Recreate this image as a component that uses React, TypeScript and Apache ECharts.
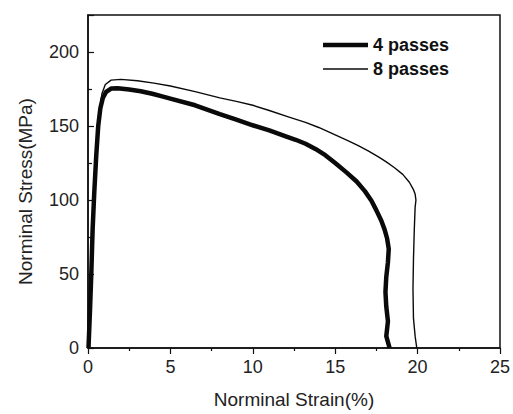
import React, { useEffect, useRef } from "react";
import * as echarts from "echarts";

const seriesNames = ["4 passes", "8 passes"];

const passes4: [number, number][] = [
  [0.03, 0], [0.12, 25], [0.2, 50], [0.28, 80], [0.38, 105], [0.5, 130],
  [0.62, 150], [0.75, 162], [0.9, 169], [1.1, 173], [1.4, 175.3], [1.8, 175.5],
  [2.5, 174.6], [3.2, 173.5], [3.9, 171.8], [4.5, 170], [5, 168.5], [6.5, 164],
  [8, 158], [9, 154.3], [10, 150.5], [11, 147], [12, 143], [12.6, 140.7],
  [13.2, 138], [13.8, 134.5], [14.4, 130.3], [15, 125], [15.7, 118.5],
  [16.3, 112.5], [16.8, 106], [17.2, 99.5], [17.5, 93], [17.8, 86], [18.0, 80],
  [18.15, 74], [18.25, 67], [18.2, 58], [18.1, 48], [18.05, 38], [18.1, 28],
  [18.2, 18], [18.1, 8], [18.3, 0],
];

const passes8: [number, number][] = [
  [0.05, 0], [0.15, 40], [0.3, 90], [0.5, 130], [0.7, 160], [0.85, 172],
  [1.05, 178], [1.4, 181], [2.0, 181.5], [3, 180.6], [4, 179], [5, 177],
  [6.5, 173.2], [8, 169], [9, 166.6], [10, 164], [11, 160.5], [12.2, 156],
  [13.2, 152.5], [14, 149], [15, 144], [15.8, 140], [16.4, 136.8], [17, 133.2],
  [17.6, 129.3], [18.1, 125.8], [18.6, 121.8], [19.1, 117.3], [19.5, 112],
  [19.75, 107], [19.85, 104], [19.9, 100], [19.85, 95], [19.8, 80], [19.75, 60],
  [19.72, 40], [19.75, 20], [19.85, 8], [19.95, 0],
];

const xAxisName = "Norminal Strain(%)";
const yAxisName = "Norminal Stress(MPa)";

export default function App() {
  const ref = useRef<HTMLDivElement>(null);
  useEffect(() => {
    document.body.style.margin = "0";
    if (!ref.current) return;
    const chart = echarts.init(ref.current, undefined, { renderer: "svg" });
    const font = "Liberation Sans, Arial, sans-serif";
    const legendBase = {
      icon: "rect",
      itemWidth: 45,
      left: 323,
      textStyle: { fontSize: 18, fontWeight: "bold", color: "#111", fontFamily: font },
      padding: 0,
    };
    chart.setOption({
      animation: false,
      backgroundColor: "#fff",
      grid: {
        left: 88,
        right: 11,
        top: 15,
        bottom: 62,
        show: true,
        borderColor: "#111",
        borderWidth: 1.5,
      },
      legend: [
        { ...legendBase, data: [seriesNames[0]], top: 36, itemHeight: 4.5 },
        { ...legendBase, data: [seriesNames[1]], top: 60, itemHeight: 1.5 },
      ],
      xAxis: {
        type: "value",
        min: 0,
        max: 25,
        interval: 5,
        name: xAxisName,
        nameLocation: "middle",
        nameGap: 42,
        nameTextStyle: { fontSize: 19, color: "#222", fontFamily: font },
        axisLine: { lineStyle: { color: "#111", width: 1.5 } },
        axisTick: { inside: false, length: 6, lineStyle: { color: "#111", width: 1.2 } },
        minorTick: { show: true, splitNumber: 2, length: 3, lineStyle: { color: "#111", width: 1.2 } },
        axisLabel: { fontSize: 18, color: "#222", margin: 10, fontFamily: font },
        splitLine: { show: false },
      },
      yAxis: {
        type: "value",
        min: 0,
        max: 225,
        interval: 50,
        name: yAxisName,
        nameLocation: "middle",
        nameGap: 53,
        nameTextStyle: { fontSize: 19, color: "#222", fontFamily: font, padding: [0, 20, 0, 0] },
        axisLine: { lineStyle: { color: "#111", width: 1.5 } },
        axisTick: { inside: true, length: 6, lineStyle: { color: "#111", width: 1.2 } },
        minorTick: { show: true, splitNumber: 2, length: 4, lineStyle: { color: "#111", width: 1.2 } },
        axisLabel: { fontSize: 18, color: "#222", margin: 9, fontFamily: font, showMaxLabel: false },
        splitLine: { show: false },
      },
      series: [
        {
          name: seriesNames[0],
          type: "line",
          data: passes4,
          showSymbol: false,
          smooth: false,
          itemStyle: { color: "#0a0a0a" },
          lineStyle: { color: "#0a0a0a", width: 4.5, join: "round" },
        },
        {
          name: seriesNames[1],
          type: "line",
          data: passes8,
          showSymbol: false,
          smooth: false,
          itemStyle: { color: "#0a0a0a" },
          lineStyle: { color: "#0a0a0a", width: 1.4, join: "round" },
        },
      ],
    });
    return () => chart.dispose();
  }, []);
  return <div ref={ref} style={{ width: 513, height: 414 }} />;
}
